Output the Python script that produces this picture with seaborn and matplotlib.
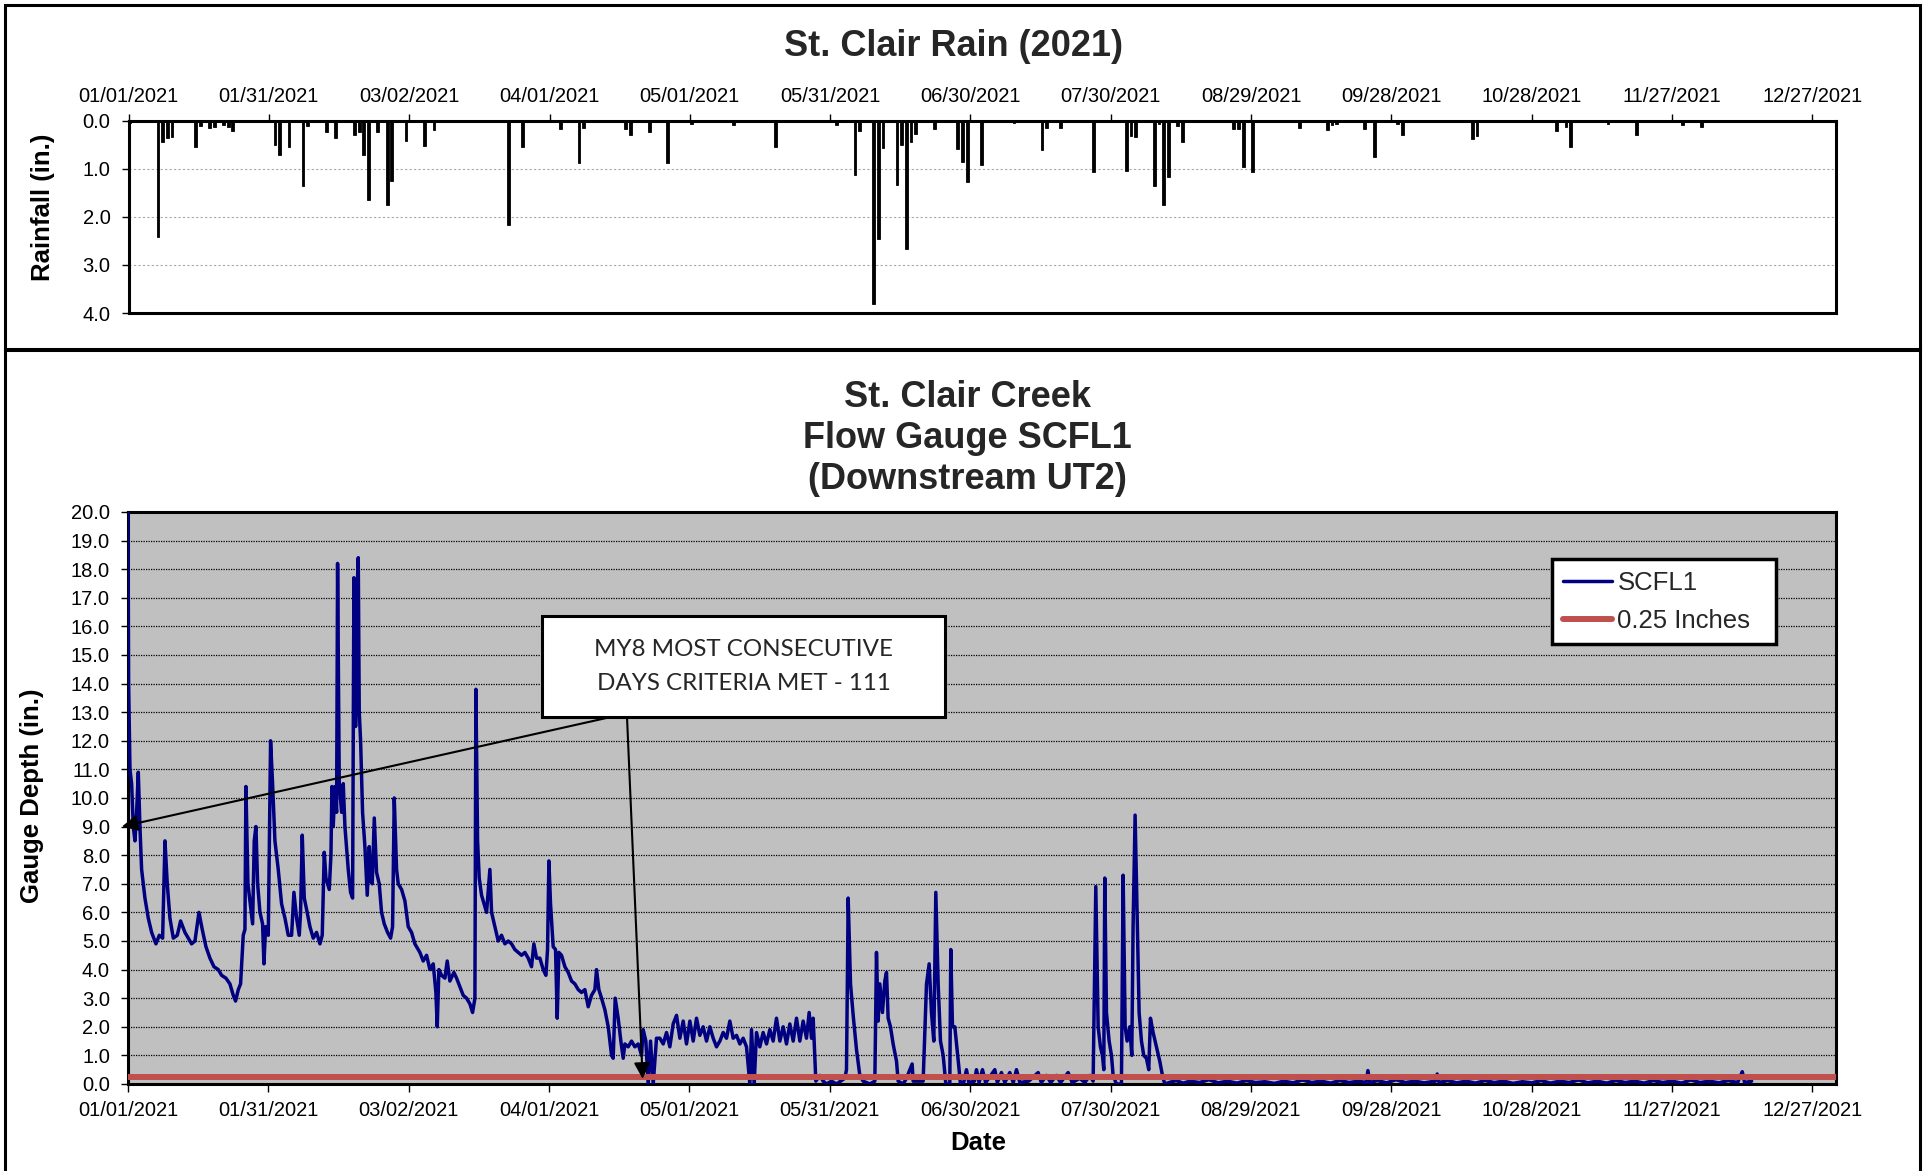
import matplotlib
matplotlib.use('Agg')
import matplotlib.pyplot as plt
from matplotlib.patches import Rectangle
from matplotlib.ticker import FormatStrFormatter
import numpy as np
import pandas as pd
import seaborn as sns

# daily rainfall (in.)
rain_date = ['2021-01-01', '2021-01-07', '2021-01-08', '2021-01-09', '2021-01-10', '2021-01-15',
             '2021-01-16', '2021-01-18', '2021-01-19', '2021-01-21', '2021-01-22', '2021-01-23',
             '2021-02-01', '2021-02-02', '2021-02-04', '2021-02-07', '2021-02-08', '2021-02-12',
             '2021-02-14', '2021-02-18', '2021-02-19', '2021-02-20', '2021-02-21', '2021-02-23',
             '2021-02-25', '2021-02-26',
             '2021-03-01', '2021-03-05', '2021-03-07', '2021-03-23', '2021-03-26',
             '2021-04-03', '2021-04-07', '2021-04-08', '2021-04-17', '2021-04-18', '2021-04-22',
             '2021-04-26',
             '2021-05-01', '2021-05-10', '2021-05-19',
             '2021-06-01', '2021-06-05', '2021-06-06', '2021-06-09', '2021-06-10', '2021-06-11',
             '2021-06-14', '2021-06-15', '2021-06-16', '2021-06-17', '2021-06-18', '2021-06-22',
             '2021-06-27', '2021-06-28', '2021-06-29',
             '2021-07-02', '2021-07-09', '2021-07-15', '2021-07-16', '2021-07-19', '2021-07-26',
             '2021-08-02', '2021-08-03', '2021-08-04', '2021-08-08', '2021-08-09', '2021-08-10',
             '2021-08-11', '2021-08-13', '2021-08-14', '2021-08-25', '2021-08-26', '2021-08-27',
             '2021-08-29',
             '2021-09-08', '2021-09-14', '2021-09-15', '2021-09-16', '2021-09-22', '2021-09-24',
             '2021-09-29', '2021-09-30',
             '2021-10-15', '2021-10-16',
             '2021-11-02', '2021-11-04', '2021-11-05', '2021-11-13', '2021-11-19', '2021-11-29',
             '2021-12-03']
rain_in = [0.05, 2.42, 0.43, 0.36, 0.34, 0.55, 0.10, 0.15, 0.12, 0.08, 0.12, 0.20,
           0.50, 0.71, 0.54, 1.36, 0.10, 0.24, 0.35, 0.29, 0.22, 0.70, 1.64, 0.24, 1.74, 1.26,
           0.42, 0.52, 0.19, 2.16, 0.54,
           0.16, 0.87, 0.14, 0.17, 0.29, 0.24, 0.87,
           0.06, 0.08, 0.55,
           0.09, 1.12, 0.21, 3.81, 2.46, 0.56, 1.34, 0.51, 2.67, 0.44, 0.28, 0.16, 0.58, 0.85, 1.28,
           0.91, 0.05, 0.61, 0.14, 0.14, 1.07,
           1.05, 0.31, 0.33, 1.35, 0.06, 1.76, 1.16, 0.10, 0.43, 0.17, 0.17, 0.95, 1.07,
           0.14, 0.19, 0.08, 0.06, 0.17, 0.76, 0.06, 0.30,
           0.38, 0.31,
           0.21, 0.12, 0.55, 0.06, 0.30, 0.08,
           0.12]

# gauge SCFL1: days after 01/01/2021 and depth (in.)
flow_day = [0.0, 0.14, 0.43, 0.78, 1.14, 1.5, 1.85, 2.21, 2.56, 2.92,
            3.63, 4.34, 5.06, 5.98, 6.7, 7.41, 7.91, 8.4, 8.97, 9.69,
            10.54, 11.25, 12.18, 12.89, 13.6, 14.32, 15.17, 15.88, 16.67, 17.52,
            18.38, 19.3, 20.01, 20.94, 21.79, 22.51, 23.0, 23.58, 24.07, 24.64,
            25.0, 25.21, 25.64, 26.07, 26.64, 26.99, 27.35, 27.71, 28.21, 28.77,
            29.06, 29.42, 29.99, 30.48, 30.91, 31.41, 32.12, 32.83, 33.55, 34.26,
            34.97, 35.47, 36.04, 36.61, 36.89, 37.25, 37.68, 38.18, 38.89, 39.6,
            40.31, 41.03, 41.52, 41.95, 42.31, 43.02, 43.38, 43.59, 43.87, 44.23,
            44.59, 44.8, 45.16, 45.66, 46.01, 46.37, 47.08, 47.58, 48.01, 48.29,
            48.65, 48.86, 49.22, 49.43, 49.72, 50.14, 50.64, 51.14, 51.57, 51.85,
            52.21, 52.64, 53.13, 53.7, 54.2, 54.77, 55.48, 56.13, 56.55, 56.91,
            57.41, 57.76, 58.48, 59.19, 59.9, 60.61, 61.32, 62.39, 63.1, 63.82,
            64.53, 65.24, 65.81, 66.1, 66.45, 67.02, 67.74, 68.23, 68.8, 69.66,
            70.23, 70.94, 71.65, 72.36, 73.08, 73.65, 74.15, 74.36, 74.72, 75.07,
            75.57, 76.28, 76.64, 77.35, 77.71, 78.42, 79.13, 79.84, 80.56, 81.27,
            81.98, 82.69, 83.4, 84.12, 84.83, 85.54, 86.25, 86.75, 87.32, 88.03,
            88.75, 89.32, 89.67, 89.96, 90.31, 90.88, 91.38, 91.74, 92.09, 92.66,
            93.38, 94.09, 94.8, 95.51, 96.23, 96.94, 97.65, 98.36, 99.07, 99.79,
            100.14, 100.64, 101.21, 101.92, 102.64, 103.35, 103.7, 104.13, 104.77, 105.34,
            105.84, 106.2, 106.91, 107.62, 108.33, 109.05, 109.76, 110.11, 110.68, 111.18,
            111.68, 112.25, 112.96, 113.68, 114.39, 115.1, 115.81, 116.52, 117.24, 117.95,
            118.66, 119.37, 120.09, 120.8, 121.51, 122.22, 122.93, 123.65, 124.36, 125.07,
            125.78, 126.5, 127.21, 127.92, 128.63, 129.34, 130.06, 130.77, 131.48, 132.19,
            132.91, 133.26, 133.83, 134.33, 135.04, 135.75, 136.47, 137.18, 137.89, 138.6,
            139.32, 140.03, 140.74, 141.45, 142.17, 142.88, 143.59, 144.3, 145.01, 145.58,
            146.08, 146.44, 146.72, 147.01, 147.86, 148.58, 149.29, 150.36, 151.42, 153.2,
            153.56, 153.92, 154.42, 154.99, 155.7, 156.41, 157.12, 158.55, 159.62, 159.97,
            160.33, 160.68, 161.25, 161.75, 162.11, 162.46, 162.96, 163.53, 164.25, 164.6,
            165.67, 166.38, 167.59, 167.81, 169.94, 170.66, 171.23, 171.72, 172.22, 172.65,
            173.15, 173.65, 174.22, 174.79, 175.64, 175.85, 176.21, 176.71, 177.21, 177.63,
            177.92, 178.6, 179.2, 179.7, 180.9, 181.34, 181.9, 182.62, 183.3, 185.26,
            185.8, 186.68, 187.4, 188.46, 189.2, 189.89, 190.6, 192.5, 194.52, 195.2,
            196.3, 197.2, 198.43, 199.3, 200.93, 201.8, 203.42, 204.5, 205.56, 206.27,
            206.84, 207.34, 207.83, 208.26, 208.55, 208.76, 209.12, 209.69, 210.19, 210.54,
            211.25, 212.32, 212.68, 213.11, 213.53, 214.1, 214.53, 214.81, 215.24, 215.67,
            216.1, 216.6, 217.09, 217.66, 218.16, 218.52, 219.09, 219.8, 220.51, 221.08,
            221.58, 222.5, 224.0, 225.5, 227.0, 229.0, 231.0, 233.0, 235.0, 237.0,
            239.0, 241.0, 243.0, 245.0, 247.0, 249.0, 251.0, 253.0, 255.0, 257.0,
            259.0, 261.0, 263.0, 264.6, 265.0, 265.4, 267.0, 269.0, 271.0, 273.0,
            275.0, 277.0, 279.4, 279.8, 280.2, 282.0, 284.0, 286.0, 288.0, 290.0,
            292.0, 294.0, 296.0, 298.0, 300.0, 302.0, 304.0, 306.0, 308.0, 310.0,
            312.0, 314.0, 316.0, 318.0, 320.0, 322.0, 324.0, 326.0, 328.0, 330.0,
            332.0, 334.0, 336.0, 338.0, 340.0, 342.0, 344.0, 345.0, 345.5, 347.0]
flow_in = [20.0, 14.0, 11.0, 10.5, 9.0, 8.5, 9.5, 10.9, 9.0, 7.5,
           6.5, 5.8, 5.3, 4.9, 5.2, 5.1, 8.5, 7.0, 5.8, 5.1,
           5.2, 5.7, 5.3, 5.1, 4.9, 5.0, 6.0, 5.4, 4.8, 4.4,
           4.1, 4.0, 3.8, 3.7, 3.5, 3.1, 2.9, 3.3, 3.5, 5.2,
           5.4, 10.4, 7.0, 6.4, 5.6, 8.5, 9.0, 7.0, 6.0, 5.6,
           4.2, 5.5, 5.2, 12.0, 10.5, 8.5, 7.5, 6.3, 5.8, 5.2,
           5.2, 6.7, 5.8, 5.2, 6.0, 8.7, 6.5, 6.1, 5.5, 5.1,
           5.3, 4.9, 5.2, 8.1, 7.2, 6.8, 8.0, 10.4, 9.0, 10.4,
           9.5, 18.2, 10.5, 9.5, 10.5, 9.0, 7.5, 6.7, 6.5, 17.7,
           12.5, 16.7, 18.4, 13.0, 12.0, 9.5, 8.3, 6.6, 8.3, 7.1,
           7.0, 9.3, 7.4, 7.0, 6.0, 5.6, 5.3, 5.1, 5.5, 10.0,
           7.5, 7.0, 6.8, 6.4, 5.5, 5.3, 4.9, 4.6, 4.3, 4.5,
           4.0, 4.2, 3.2, 2.0, 4.0, 3.8, 3.7, 4.3, 3.6, 3.9,
           3.7, 3.4, 3.1, 3.0, 2.8, 2.5, 3.0, 13.8, 8.5, 7.2,
           6.6, 6.2, 6.0, 7.5, 6.0, 5.5, 5.0, 5.2, 4.9, 5.0,
           4.9, 4.7, 4.6, 4.5, 4.6, 4.4, 4.1, 4.9, 4.4, 4.4,
           4.0, 3.8, 4.7, 7.8, 6.3, 4.8, 4.7, 2.3, 4.6, 4.5,
           4.1, 3.9, 3.6, 3.5, 3.3, 3.2, 3.3, 2.7, 3.1, 3.3,
           4.0, 3.3, 3.0, 2.6, 2.0, 1.0, 0.9, 3.0, 2.3, 1.5,
           0.9, 1.4, 1.3, 1.5, 1.3, 1.4, 1.0, 1.9, 1.5, 0.0,
           1.5, 0.0, 1.6, 1.6, 1.4, 1.8, 1.3, 2.1, 2.4, 1.6,
           2.2, 1.4, 2.2, 1.5, 2.3, 1.7, 2.0, 1.5, 2.0, 1.6,
           1.3, 1.5, 1.8, 1.6, 2.2, 1.6, 1.7, 1.4, 1.6, 1.3,
           0.0, 1.9, 0.0, 1.8, 1.3, 1.8, 1.4, 1.9, 1.5, 2.3,
           1.5, 2.0, 1.4, 2.1, 1.5, 2.3, 1.5, 2.2, 1.6, 2.5,
           1.6, 2.3, 1.2, 0.1, 0.3, 0.1, 0.0, 0.1, 0.0, 0.2,
           0.5, 6.5, 3.5, 2.4, 1.2, 0.3, 0.1, 0.0, 0.1, 4.6,
           2.2, 3.5, 2.5, 3.6, 3.9, 2.3, 2.0, 1.4, 0.8, 0.1,
           0.0, 0.2, 0.7, 0.1, 0.1, 3.5, 4.2, 2.5, 1.5, 6.7,
           3.5, 1.5, 1.0, 0.0, 0.0, 4.7, 2.0, 2.0, 1.2, 0.5,
           0.0, 0.05, 0.5, 0.05, 0.1, 0.5, 0.05, 0.5, 0.05, 0.5,
           0.05, 0.4, 0.05, 0.4, 0.05, 0.5, 0.05, 0.1, 0.4, 0.05,
           0.3, 0.05, 0.3, 0.05, 0.4, 0.05, 0.2, 0.05, 0.3, 0.1,
           6.9, 2.0, 1.3, 1.0, 0.5, 7.2, 2.5, 1.5, 1.0, 0.3,
           0.0, 0.0, 7.3, 2.0, 1.5, 2.0, 1.0, 5.5, 9.4, 6.0,
           2.5, 1.5, 1.0, 0.9, 0.5, 2.3, 1.8, 1.3, 0.8, 0.3,
           0.0, 0.05, 0.12, 0.03, 0.1, 0.05, 0.15, 0.04, 0.1, 0.03,
           0.12, 0.05, 0.08, 0.02, 0.1, 0.04, 0.14, 0.05, 0.1, 0.03,
           0.12, 0.05, 0.1, 0.05, 0.47, 0.05, 0.12, 0.04, 0.15, 0.05,
           0.1, 0.04, 0.1, 0.35, 0.05, 0.12, 0.04, 0.1, 0.03, 0.12,
           0.05, 0.1, 0.02, 0.08, 0.04, 0.12, 0.03, 0.1, 0.05, 0.14,
           0.04, 0.1, 0.03, 0.12, 0.05, 0.1, 0.03, 0.12, 0.05, 0.1,
           0.03, 0.14, 0.05, 0.1, 0.04, 0.12, 0.05, 0.43, 0.05, 0.1]

threshold = 0.25
tick_dates = ['2021-01-01', '2021-01-31', '2021-03-02', '2021-04-01', '2021-05-01', '2021-05-31',
              '2021-06-30', '2021-07-30', '2021-08-29', '2021-09-28', '2021-10-28', '2021-11-27',
              '2021-12-27']
tick_labels = ['01/01/2021', '01/31/2021', '03/02/2021', '04/01/2021', '05/01/2021', '05/31/2021',
               '06/30/2021', '07/30/2021', '08/29/2021', '09/28/2021', '10/28/2021', '11/27/2021',
               '12/27/2021']
note_text = 'MY8 MOST CONSECUTIVE\nDAYS CRITERIA MET - 111'
# arrow targets of the note (date, depth)
note_targets = [('2020-12-30 17:00', 9.0), ('2021-04-21 00:00', 0.18)]

assert len(flow_day) == len(flow_in)
assert len(rain_date) == len(rain_in)

sns.set_theme(style='white')
plt.rcParams['font.family'] = ['Liberation Sans', 'DejaVu Sans']

start = pd.Timestamp('2021-01-01')
end = pd.Timestamp('2022-01-01')
rain = pd.DataFrame({'date': pd.to_datetime(rain_date), 'rain': rain_in})
flow = pd.DataFrame({'date': start + pd.to_timedelta(flow_day, unit='D'), 'depth': flow_in})
ticks = pd.to_datetime(tick_dates)

fig = plt.figure(figsize=(19.27, 11.71), dpi=100)

# panel frames
fig.add_artist(Rectangle((0.0026, 0.702), 0.9936, 0.2937, transform=fig.transFigure,
                         fill=False, lw=2.2, ec='black'))
fig.add_artist(Rectangle((0.0026, -0.02), 0.9936, 0.7211, transform=fig.transFigure,
                         fill=False, lw=2.2, ec='black'))

# ---- rain panel
ax1 = fig.add_axes([0.0667, 0.7327, 0.886, 0.164])
ax1.bar(rain['date'], rain['rain'], width=0.6, align='edge', color='black',
        edgecolor='black', linewidth=0.6, zorder=3)
ax1.set_xlim(start, end)
ax1.set_ylim(4, 0)
ax1.set_yticks([0, 1, 2, 3, 4])
ax1.yaxis.set_major_formatter(FormatStrFormatter('%.1f'))
ax1.set_xticks(ticks)
ax1.set_xticklabels(tick_labels)
ax1.xaxis.tick_top()
ax1.tick_params(axis='x', top=True, bottom=False, labeltop=True, labelbottom=False,
                direction='out', length=5, width=1, pad=6, labelsize=14.5, colors='black')
ax1.tick_params(axis='y', left=True, direction='out', length=5, width=1, pad=8,
                labelsize=14.5, colors='black')
ax1.yaxis.grid(True, color='#A8A8A8', ls=(0, (2, 2)), lw=0.8)
ax1.set_axisbelow(True)
for s in ax1.spines.values():
    s.set_color('black')
    s.set_linewidth(2.2)
ax1.set_xlabel('')
ax1.set_ylabel('Rainfall (in.)', fontsize=18.5, fontweight='bold', color='black')
ax1.yaxis.set_label_coords(-0.043, 0.55)
fig.text(0.4946, 0.9600, 'St. Clair Rain (2021)', fontsize=26, fontweight='bold',
         ha='center', va='center')

# ---- gauge panel
ax2 = fig.add_axes([0.0664, 0.0743, 0.8863, 0.4885])
ax2.set_facecolor('#C0C0C0')
sns.lineplot(data=flow, x='date', y='depth', ax=ax2, color='#000080', lw=2.5,
             estimator=None, sort=False, label='SCFL1', zorder=3)
ax2.axhline(threshold, color='#C0504D', lw=4.3, zorder=4, label='0.25 Inches')
ax2.set_xlim(start, end)
ax2.set_ylim(0, 20)
ax2.set_yticks(np.arange(0, 21, 1))
ax2.yaxis.set_major_formatter(FormatStrFormatter('%.1f'))
ax2.set_xticks(ticks)
ax2.set_xticklabels(tick_labels)
ax2.tick_params(axis='x', bottom=True, direction='out', length=6, width=1, pad=6,
                labelsize=14.5, colors='black')
ax2.tick_params(axis='y', left=True, direction='out', length=5, width=1, pad=8,
                labelsize=14.5, colors='black')
ax2.yaxis.grid(True, color='black', ls=(0, (1, 1)), lw=0.9)
ax2.set_axisbelow(True)
for s in ax2.spines.values():
    s.set_color('black')
    s.set_linewidth(2.2)
ax2.set_xlabel('Date', fontsize=18.5, fontweight='bold', color='black')
ax2.xaxis.set_label_coords(0.4977, -0.082)
ax2.set_ylabel('Gauge Depth (in.)', fontsize=18.5, fontweight='bold', color='black')
ax2.yaxis.set_label_coords(-0.049, 0.5035)

leg = ax2.legend(loc='upper left', bbox_to_anchor=(0.8337, 0.7727, 0.1312, 0.1451),
                 mode='expand', frameon=True, fancybox=False, edgecolor='black',
                 facecolor='white', framealpha=1, fontsize=18.5, handlelength=1.9,
                 handletextpad=0.2, labelspacing=0.55, borderpad=0.45, borderaxespad=0)
leg.get_frame().set_linewidth(2.5)

fig.text(0.502, 0.6254, 'St. Clair Creek\nFlow Gauge SCFL1\n(Downstream UT2)', fontsize=26,
         fontweight='bold', ha='center', va='center', linespacing=1.23)

# note box with its arrows
ax2.add_patch(Rectangle((0.2424, 0.6416), 0.2359, 0.1766, transform=ax2.transAxes,
                        facecolor='white', edgecolor='black', lw=2.2, zorder=6))
ax2.text(0.3604, 0.7299, note_text, transform=ax2.transAxes, ha='center', va='center',
         fontsize=17.4, family=['Lato', 'DejaVu Sans'], linespacing=1.75, zorder=7)
starts = [(0.2828, 0.6416), (0.2922, 0.6416)]
for (d, v), (sx, sy) in zip(note_targets, starts):
    ax2.annotate('', xy=(pd.Timestamp(d), v), xycoords='data', xytext=(sx, sy),
                 textcoords='axes fraction', annotation_clip=False,
                 arrowprops=dict(arrowstyle='-|>', color='black', lw=1.5, mutation_scale=24,
                                 shrinkA=0, shrinkB=0), zorder=6)

fig.savefig('out.png', dpi=100)
